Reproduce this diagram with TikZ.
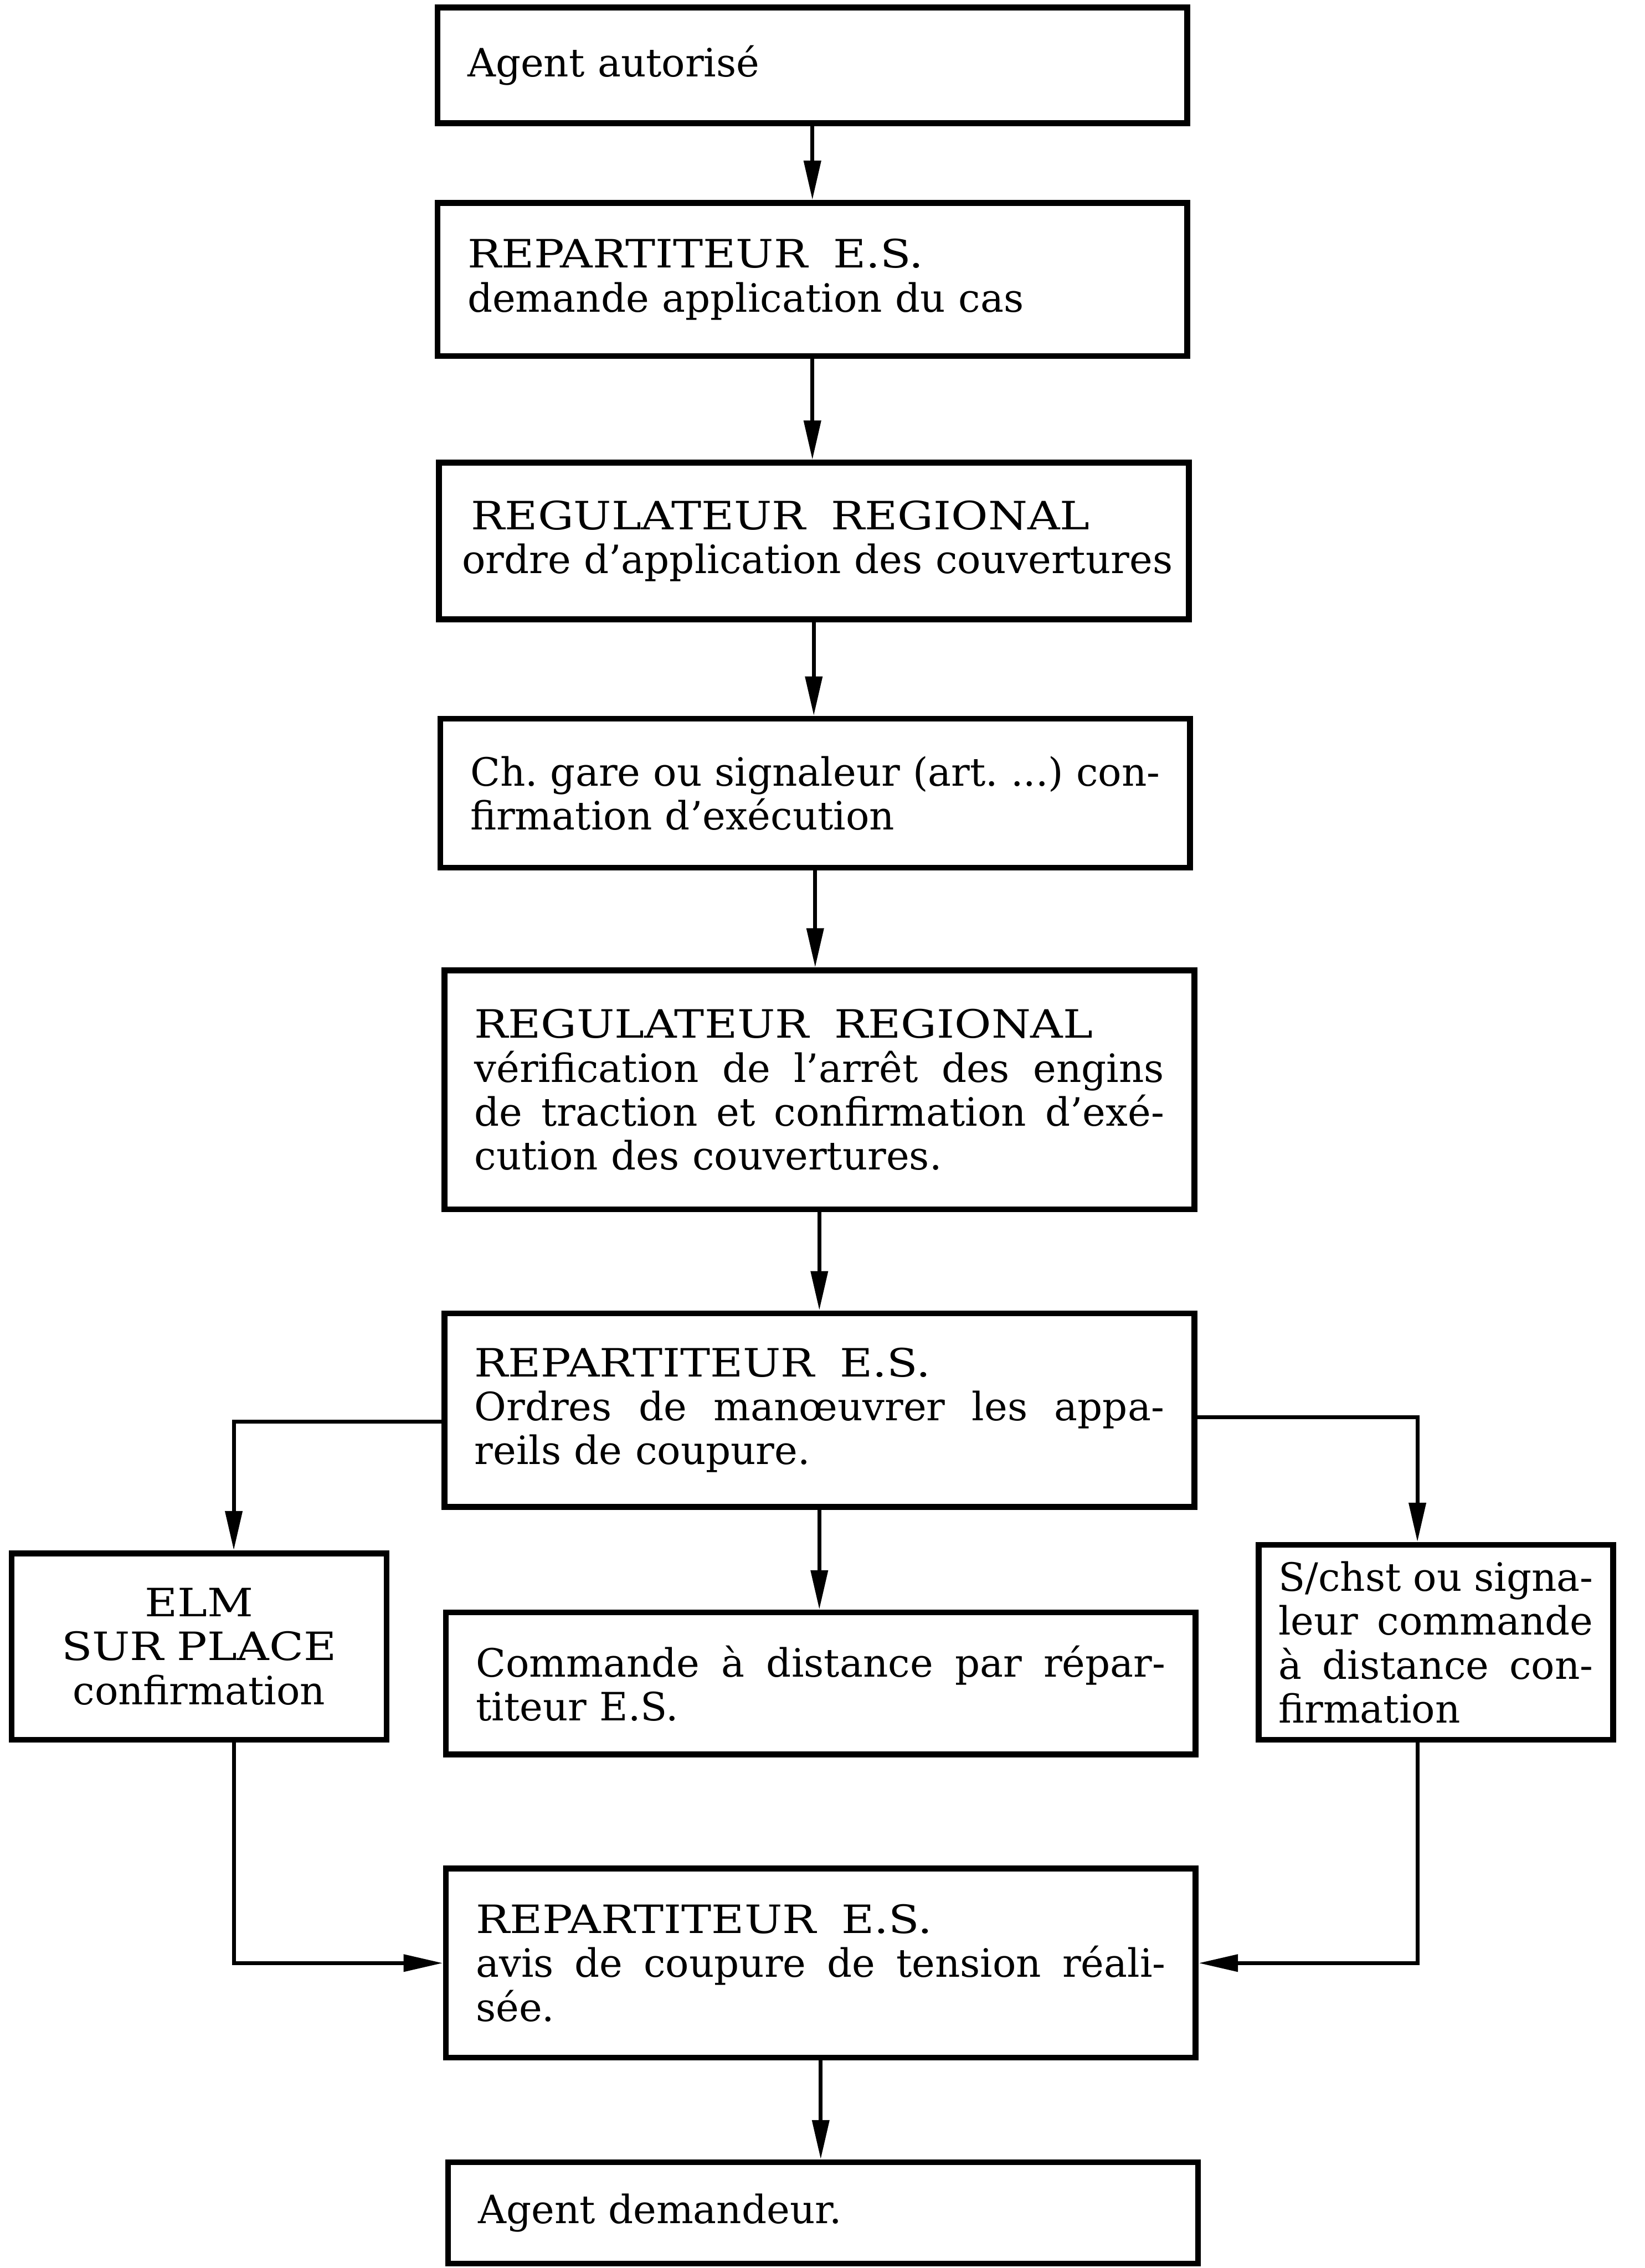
\documentclass[tikz,border=0pt]{standalone}
\usepackage{fontspec}
\setmainfont{DejaVu Serif}
\newfontfamily\capsfont[FakeStretch=1.15]{DejaVu Serif}
\usepackage{tikz}
\usetikzlibrary{arrows.meta}

% a line stretched to the given width, and the wide capitals of a role name
\newcommand{\fullline}[2][14.9cm]{\makebox[#1][s]{\spaceskip=0.32em plus 1fil minus 0.1em\relax #2}}
\newcommand{\rolename}[1]{{\capsfont #1}}

\begin{document}
\frenchspacing
\begin{tikzpicture}[
    box/.style={draw, line width=3.6pt, align=left, inner xsep=0.6cm, inner ysep=0pt,
        text width=14.9cm, minimum width=16.2cm, font=\fontsize{24}{27}\selectfont},
    sidebox/.style={box, inner xsep=0.43cm},
    arr/.style={line width=2.4pt, -{Triangle[length=0.85cm, width=0.36cm]}}
]
    \useasboundingbox (0,0) rectangle (35.53,-49.01);

    %main column
    \node[box, minimum height=2.50cm] (b1) at (17.55,-1.41) {Agent autorisé};
    \node[box, minimum height=3.31cm] (b2) at (17.55,-6.04) {\rolename{REPARTITEUR\hspace{0.55cm}E.S.}\\ demande application du cas};
    \node[box, inner xsep=0.5cm, text width=15.2cm, minimum height=3.38cm] (b3) at (17.58,-11.69) {\hspace{0.2cm}\rolename{REGULATEUR\hspace{0.55cm}REGIONAL}\\ \mbox{ordre d’application des couvertures}};
    \node[box, minimum height=3.22cm] (b4) at (17.61,-17.14) {\fullline{Ch. gare ou signaleur (art. ...) con-}\\ firmation d’exécution};
    \node[box, minimum height=5.16cm] (b5) at (17.70,-23.55) {\rolename{REGULATEUR\hspace{0.55cm}REGIONAL}\\
        \fullline{vérification de l’arrêt des engins}\\
        \fullline{de traction et confirmation d’exé-}\\
        cution des couvertures.};
    \node[box, minimum height=4.18cm] (b6) at (17.70,-30.47) {\rolename{REPARTITEUR\hspace{0.55cm}E.S.}\\
        \fullline{Ordres de manœuvrer les appa-}\\
        reils de coupure.};

    %three branches
    \node[sidebox, align=center, text width=7.2cm, minimum width=8.1cm, minimum height=4.03cm] (elm) at (4.30,-35.58) {\rolename{ELM}\\ \rolename{SUR PLACE}\\ confirmation};
    \node[box, minimum height=3.07cm] (b8) at (17.73,-36.38) {\fullline{Commande à distance par répar-}\\ titeur E.S.};
    \node[sidebox, text width=6.8cm, minimum width=7.65cm, minimum height=4.21cm] (schst) at (31.02,-35.49) {\fullline[6.8cm]{S/chst ou signa-}\\
        \fullline[6.8cm]{leur commande}\\
        \fullline[6.8cm]{à distance con-}\\
        firmation};

    \node[box, minimum height=4.09cm] (b10) at (17.73,-42.42) {\rolename{REPARTITEUR\hspace{0.55cm}E.S.}\\
        \fullline{avis de coupure de tension réali-}\\
        sée.};
    \node[box, minimum height=2.19cm] (b11) at (17.78,-47.82) {Agent demandeur.};

    %arrows
    \draw[arr] (b1.south) -- (b1.south |- b2.north);
    \draw[arr] (b2.south) -- (b2.south |- b3.north);
    \draw[arr] (b3.south) -- (b3.south |- b4.north);
    \draw[arr] (b4.south) -- (b4.south |- b5.north);
    \draw[arr] (b5.south) -- (b5.south |- b6.north);
    \draw[arr] (b6.south) -- (b6.south |- b8.north);
    \draw[arr] ([yshift=-0.25cm]b6.west) -| ([xshift=0.75cm]elm.north);
    \draw[arr] ([yshift=-0.15cm]b6.east) -| ([xshift=-0.4cm]schst.north);
    \draw[arr] ([xshift=0.75cm]elm.south) |- (b10.west);
    \draw[arr] ([xshift=-0.4cm]schst.south) |- (b10.east);
    \draw[arr] (b10.south) -- (b10.south |- b11.north);

\end{tikzpicture}
\end{document}
